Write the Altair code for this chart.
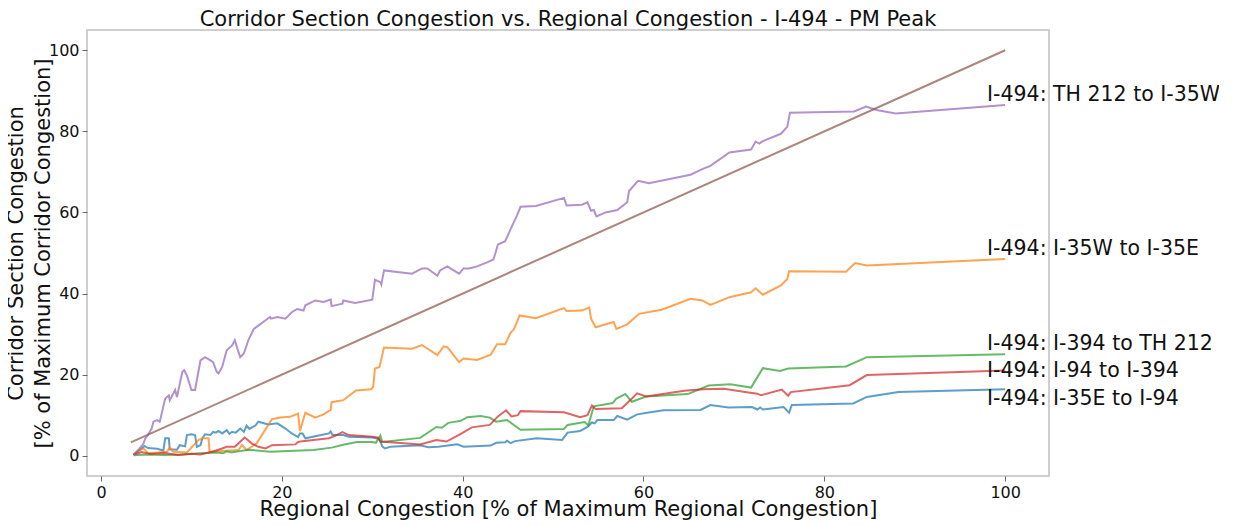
import altair as alt
import pandas as pd

TITLE = "Corridor Section Congestion vs. Regional Congestion - I-494 - PM Peak"
X_TITLE = "Regional Congestion [% of Maximum Regional Congestion]"
Y_TITLE = ["Corridor Section Congestion", "[% of Maximum Corridor Congestion]"]
SERIES = ["I-494: I-35E to I-94", "I-494: I-35W to I-35E", "I-494: I-394 to TH 212",
          "I-494: I-94 to I-394", "I-494: TH 212 to I-35W", "Equal share"]
COLORS = ["#1f77b4", "#ff7f0e", "#2ca02c", "#d62728", "#9467bd", "#8c564b"]
TICKS = [0, 20, 40, 60, 80, 100]

# (regional congestion %, corridor section congestion %)
BLUE = [(3.6, 0.3), (4.3, 1.4), (4.8, 2.4), (5.2, 1.9), (6.2, 1.7), (6.9, 1.3), (7.1, 4.3),
        (7.5, 4.3), (7.6, 1.6), (8.4, 1.5), (8.7, 2.6), (9.3, 2.3), (9.5, 5.1), (10.0, 5.3),
        (10.4, 5.1), (10.6, 2.2), (11.0, 2.6), (11.2, 4.3), (11.5, 5.3), (12.1, 5.1),
        (12.4, 5.9), (12.7, 5.7), (13.0, 6.1), (13.4, 5.5), (13.9, 6.3), (14.2, 5.4),
        (14.5, 5.9), (14.9, 5.7), (15.4, 6.7), (15.8, 5.9), (16.1, 7.4), (16.4, 6.6),
        (17.1, 7.5), (17.4, 8.4), (18.5, 7.7), (19.5, 8.0), (20.4, 6.7), (21.1, 5.5),
        (21.8, 4.6), (22.0, 5.5), (22.3, 5.5), (22.6, 4.3), (23.7, 4.8), (25.2, 5.5),
        (25.4, 6.0), (25.6, 5.1), (26.8, 5.1), (27.4, 4.7), (30.0, 4.5), (30.8, 4.1),
        (31.1, 2.3), (31.4, 1.8), (32.0, 2.2), (35.3, 2.6), (36.2, 2.1), (37.3, 2.2),
        (39.4, 2.8), (40.1, 2.2), (43.1, 2.5), (43.7, 3.2), (44.7, 3.3), (44.9, 3.7),
        (45.3, 3.1), (45.8, 3.6), (48.2, 4.3), (51.0, 3.9), (51.6, 5.7), (53.0, 6.1),
        (53.8, 7.1), (54.3, 8.2), (54.6, 8.0), (54.9, 8.8), (56.7, 8.8), (57.1, 9.8),
        (58.2, 8.9), (59.3, 10.2), (60.4, 10.6), (62.2, 11.2), (66.3, 11.3), (67.4, 12.5),
        (69.4, 11.9), (72.0, 12.0), (72.6, 11.4), (72.9, 11.9), (73.2, 11.4), (75.5, 12.0),
        (76.1, 10.6), (76.4, 12.5), (83.2, 12.9), (84.7, 14.5), (88.2, 15.7), (100.0, 16.4)]

ORANGE = [(3.6, 0.2), (4.3, 1.4), (4.7, 1.8), (5.2, 0.6), (7.3, 1.0), (7.6, 2.0), (8.0, 1.0),
          (9.5, 0.8), (10.8, 3.9), (11.3, 4.3), (11.9, 4.3), (12.0, 1.0), (15.2, 1.4),
          (15.6, 2.6), (16.1, 1.4), (17.2, 3.0), (18.9, 9.0), (19.8, 9.4), (20.9, 9.6),
          (21.8, 10.4), (22.0, 6.1), (22.6, 10.6), (23.7, 9.4), (24.6, 10.2), (25.4, 11.3),
          (25.5, 13.2), (26.8, 13.7), (28.2, 16.1), (29.9, 16.4), (30.1, 17.0), (30.3, 21.5),
          (30.8, 21.9), (31.3, 26.7), (34.4, 26.4), (35.5, 27.3), (37.2, 24.8), (37.9, 27.0),
          (38.3, 26.8), (39.6, 23.1), (40.1, 24.0), (41.6, 23.6), (43.1, 24.9), (43.8, 27.5),
          (44.7, 27.5), (45.3, 30.3), (45.7, 31.3), (46.3, 34.6), (48.1, 33.9), (51.2, 36.4),
          (51.5, 35.7), (53.2, 35.8), (54.0, 36.6), (54.2, 33.8), (54.7, 31.7), (56.7, 33.0),
          (57.0, 31.3), (58.2, 32.4), (59.5, 35.0), (62.0, 36.0), (65.2, 38.7), (66.5, 38.3),
          (67.4, 37.2), (69.5, 39.1), (71.9, 40.3), (72.4, 41.3), (73.2, 39.7), (75.2, 42.0),
          (75.9, 43.6), (76.1, 45.5), (82.4, 45.4), (83.4, 47.5), (84.7, 46.9), (100.0, 48.5)]

GREEN = [(3.6, 0.1), (5.0, 0.3), (7.0, 0.2), (9.0, 0.3), (11.0, 0.6), (12.8, 0.8), (13.5, 0.6),
         (13.9, 1.1), (14.4, 0.8), (16.3, 1.5), (18.7, 1.0), (23.5, 1.4), (25.5, 2.0),
         (26.8, 2.7), (28.3, 3.4), (30.0, 3.4), (30.4, 3.2), (30.9, 5.0), (31.1, 3.4),
         (35.3, 4.4), (37.1, 7.1), (37.7, 6.9), (38.4, 8.1), (39.8, 8.6), (40.5, 9.5),
         (42.0, 9.8), (43.0, 9.4), (43.7, 8.4), (44.9, 8.8), (46.4, 6.4), (51.2, 6.6),
         (51.6, 7.6), (53.5, 8.3), (53.9, 7.5), (54.5, 12.2), (56.6, 13.0), (57.0, 14.1),
         (58.0, 15.2), (58.7, 13.3), (60.3, 14.6), (64.9, 15.2), (67.2, 17.3), (69.6, 17.6),
         (71.9, 16.8), (73.2, 21.6), (75.1, 20.9), (76.0, 21.5), (82.4, 22.0), (84.7, 24.3),
         (100.0, 25.0)]

RED = [(3.6, 0.3), (4.5, 0.9), (5.5, 0.4), (7.0, 0.7), (8.5, 0.2), (10.0, 0.5), (11.0, 0.3),
       (12.3, 1.0), (13.4, 1.8), (13.9, 2.2), (14.8, 2.2), (15.6, 3.9), (15.9, 4.5),
       (16.7, 3.0), (17.4, 2.2), (18.2, 1.8), (18.9, 2.6), (21.5, 2.8), (21.8, 3.4),
       (22.3, 3.6), (25.2, 4.3), (25.9, 4.9), (26.7, 5.8), (27.4, 5.1), (30.0, 4.7),
       (30.6, 4.5), (30.9, 3.5), (35.3, 2.8), (37.1, 3.9), (38.2, 3.5), (39.9, 5.5),
       (41.0, 7.0), (43.0, 7.6), (43.9, 9.7), (44.8, 11.2), (45.4, 9.7), (46.1, 10.0),
       (46.4, 11.0), (51.2, 10.7), (53.0, 9.5), (53.8, 10.0), (54.3, 12.4), (54.7, 11.5),
       (57.6, 11.7), (58.3, 13.2), (59.3, 15.4), (60.3, 14.6), (64.5, 16.0), (66.6, 16.4),
       (68.9, 16.5), (71.6, 15.6), (72.6, 15.3), (73.0, 14.9), (75.3, 16.3), (76.0, 14.8),
       (76.3, 15.7), (82.8, 17.4), (84.7, 19.9), (100.0, 21.0)]

PURPLE = [(3.6, 0.2), (4.1, 1.4), (4.7, 3.0), (4.9, 4.3), (5.2, 5.1), (5.6, 6.7), (5.8, 8.4),
          (6.2, 8.8), (6.5, 8.4), (7.1, 14.1), (7.5, 14.9), (7.6, 13.7), (8.2, 16.2),
          (8.4, 14.5), (9.0, 20.7), (9.2, 21.1), (9.5, 19.8), (10.0, 16.2), (10.4, 16.2),
          (11.0, 23.5), (11.5, 24.3), (12.1, 23.5), (12.4, 23.1), (12.8, 20.7), (13.0, 20.3),
          (13.4, 21.9), (13.9, 26.0), (14.5, 27.2), (14.8, 28.5), (15.2, 25.6), (15.4, 24.3),
          (15.8, 25.2), (16.3, 28.5), (16.9, 31.3), (17.4, 32.1), (18.2, 33.4), (18.7, 34.2),
          (18.8, 33.8), (19.5, 34.2), (20.4, 33.8), (21.1, 35.4), (21.7, 36.2), (22.4, 35.8),
          (22.6, 37.1), (23.7, 38.3), (24.6, 37.9), (25.4, 38.5), (25.5, 36.9), (26.7, 37.5),
          (26.8, 38.3), (28.1, 37.7), (30.0, 38.5), (30.3, 43.4), (30.9, 42.8), (31.0, 42.2),
          (31.3, 45.7), (34.4, 44.9), (35.5, 46.2), (36.1, 46.2), (37.2, 44.4), (37.5, 45.7),
          (38.3, 46.7), (39.6, 44.9), (40.1, 46.2), (40.7, 46.2), (41.6, 46.7), (42.7, 47.7),
          (43.4, 48.4), (43.6, 49.8), (43.9, 52.1), (44.7, 52.9), (45.3, 55.9), (46.0, 59.2),
          (46.4, 61.4), (48.1, 61.6), (51.2, 63.6), (51.5, 61.7), (53.2, 61.9), (53.8, 62.5),
          (54.2, 60.4), (54.5, 60.6), (54.8, 59.0), (55.8, 60.0), (57.1, 60.6), (58.2, 62.5),
          (58.4, 65.3), (59.4, 67.8), (60.6, 67.2), (65.2, 69.3), (66.5, 70.7), (67.4, 71.5),
          (69.5, 74.8), (71.9, 75.5), (72.4, 77.5), (72.8, 77.0), (73.2, 77.6), (75.2, 79.4),
          (75.9, 81.1), (76.2, 84.6), (83.3, 84.9), (84.6, 86.1), (85.9, 85.2), (87.9, 84.4),
          (100.0, 86.5)]

DIAG = [(3.3, 3.3), (100.0, 100.0)]

LABELS = ["I-494: I-35E to I-94", "I-494: I-35W to I-35E", "I-494: I-394 to TH 212",
          "I-494: I-94 to I-394", "I-494: TH 212 to I-35W"]
LABEL_X = [98.0, 98.0, 98.0, 98.0, 98.0]
LABEL_Y = [12.5, 49.4, 26.0, 19.4, 87.5]

rows = []
for name, pts in zip(SERIES, [BLUE, ORANGE, GREEN, RED, PURPLE, DIAG]):
    for i, (xv, yv) in enumerate(pts):
        rows.append({"series": name, "x": xv, "y": yv, "ord": i})
df = pd.DataFrame(rows)
lab_df = pd.DataFrame({"label": LABELS, "x": LABEL_X, "y": LABEL_Y})

FONT = "DejaVu Sans"

x_enc = alt.X("x:Q", scale=alt.Scale(domain=[-1.55, 104.85], nice=False, zero=False),
              axis=alt.Axis(values=TICKS, title=X_TITLE, titlePadding=-2))
y_enc = alt.Y("y:Q", scale=alt.Scale(domain=[-5, 105], nice=False, zero=False),
              axis=alt.Axis(values=TICKS, title=Y_TITLE, titlePadding=-5, titleLineHeight=27))

lines = alt.Chart(df).mark_line(strokeWidth=2, opacity=0.72).encode(
    x=x_enc,
    y=y_enc,
    color=alt.Color("series:N", scale=alt.Scale(domain=SERIES, range=COLORS), legend=None),
    detail="series:N",
    order="ord:Q",
)

labels = alt.Chart(lab_df).mark_text(align="left", baseline="alphabetic", fontSize=20.5,
                                     font=FONT, color="#111111").encode(
    x="x:Q", y="y:Q", text="label:N")

chart = alt.layer(lines, labels).properties(
    width=962,
    height=446,
    title=alt.TitleParams(TITLE, fontSize=21, fontWeight="normal", anchor="middle",
                          font=FONT, color="#111111", offset=0, baseline="top"),
    autosize=alt.AutoSizeParams(type="none"),
    padding={"left": 79, "top": 22, "right": 170, "bottom": 45},
).configure_view(
    stroke="#bfbfbf", strokeWidth=1.5
).configure_axis(
    grid=False, domain=False, tickColor="#666666", tickSize=5, labelPadding=3,
    labelFont=FONT, labelFontSize=16, labelColor="#111111",
    titleFont=FONT, titleFontSize=21, titleFontWeight="normal", titleColor="#111111",
)

chart.save("out.html", embed_options={"renderer": "svg", "actions": False})
